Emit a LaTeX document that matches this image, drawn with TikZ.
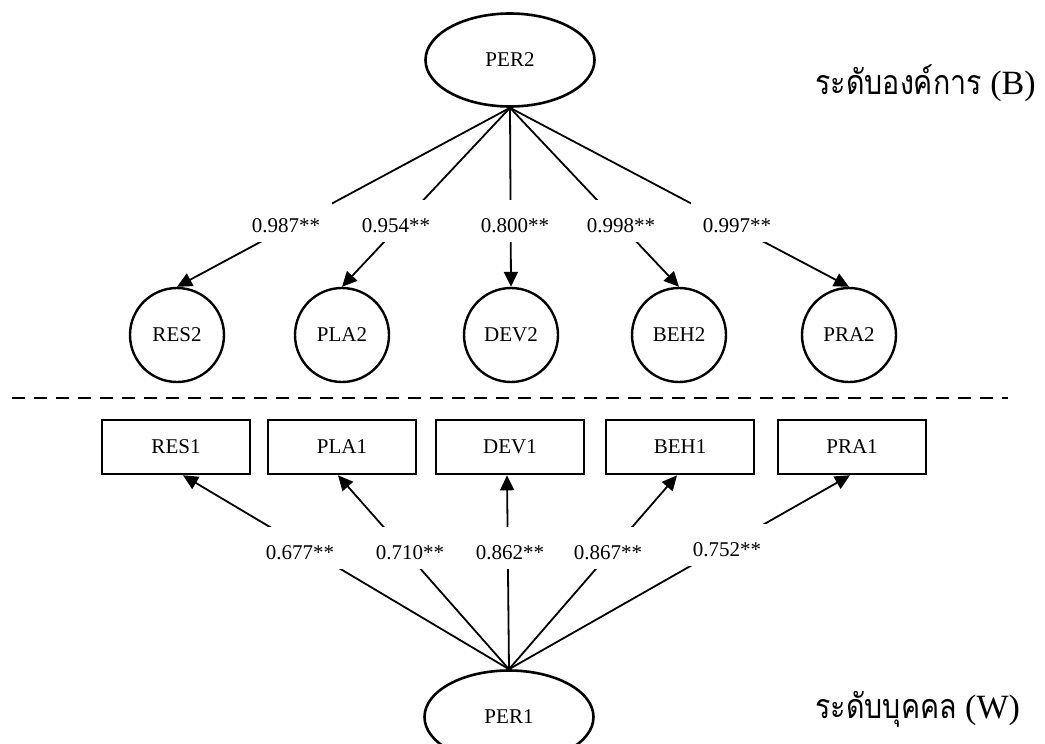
\documentclass[tikz,border=0pt]{standalone}
\usepackage{fontspec}
\setmainfont{Liberation Serif}
\newfontfamily\thaifont[Script=Thai,FakeStretch=0.84]{Loma}
\usetikzlibrary{arrows.meta,shapes.geometric}
\begin{document}
\begin{tikzpicture}[x=1pt,y=-1pt,
  font=\fontsize{21}{25}\selectfont,
  latent/.style={ellipse,draw,line width=2.6pt,minimum width=169pt,minimum height=93pt,inner sep=0pt},
  factor/.style={circle,draw,line width=2.4pt,minimum size=94pt,inner sep=0pt},
  indicator/.style={rectangle,draw,line width=2.6pt,minimum width=148pt,minimum height=54pt,inner sep=0pt},
  loading/.style={line width=1.8pt,-{Triangle[length=15pt,width=14pt]}},
  coef/.style={fill=white,anchor=base,text height=24pt,text depth=2pt,inner xsep=12pt,inner ysep=8pt},
  level/.style={anchor=west,font=\fontsize{34}{40}\selectfont}
]
\useasboundingbox (0,0) rectangle (1045,744);

% between-level (organisation) model
\node[latent] (PER2) at (510,60) {PER2};
\node[factor] (RES2) at (177,335) {RES2};
\node[factor] (PLA2) at (342,335) {PLA2};
\node[factor] (DEV2) at (511,335) {DEV2};
\node[factor] (BEH2) at (679,335) {BEH2};
\node[factor] (PRA2) at (849,335) {PRA2};

\draw[loading] (PER2.south) -- (RES2.north);
\draw[loading] (PER2.south) -- (PLA2.north);
\draw[loading] (PER2.south) -- (DEV2.north);
\draw[loading] (PER2.south) -- (BEH2.north);
\draw[loading] (PER2.south) -- (PRA2.north);

\node[coef] (bRES) at (286,232) {0.987**};
\node[coef] (bPLA) at (396,232) {0.954**};
\node[coef] (bDEV) at (515,232) {0.800**};
\node[coef] (bBEH) at (621,232) {0.998**};
\node[coef] (bPRA) at (737,232) {0.997**};

% level separator
\draw[line width=2.2pt,dash pattern=on 13pt off 9pt] (12,398) -- (1008,398);

% within-level (individual) model
\node[indicator] (RES1) at (176,447) {RES1};
\node[indicator] (PLA1) at (342,447) {PLA1};
\node[indicator] (DEV1) at (510,447) {DEV1};
\node[indicator] (BEH1) at (680,447) {BEH1};
\node[indicator] (PRA1) at (852,447) {PRA1};
\node[latent] (PER1) at (509,717) {PER1};

\draw[loading] (PER1.north) -- ([xshift=7pt]RES1.south);
\draw[loading] (PER1.north) -- ([xshift=-4pt]PLA1.south);
\draw[loading] (PER1.north) -- ([xshift=-3pt]DEV1.south);
\draw[loading] (PER1.north) -- ([xshift=-3pt]BEH1.south);
\draw[loading] (PER1.north) -- ([xshift=-2pt]PRA1.south);

\node[coef] (wRES) at (300,559) {0.677**};
\node[coef] (wPLA) at (410,559) {0.710**};
\node[coef] (wDEV) at (510,559) {0.862**};
\node[coef] (wBEH) at (608,559) {0.867**};
\node[coef] (wPRA) at (727,556) {0.752**};

% level captions
\node[level] (lvlB) at (812,83) {{\thaifont ระดับองค์การ} (B)};
\node[level] (lvlW) at (812,709) {{\thaifont ระดับบุคคล} (W)};
\end{tikzpicture}
\end{document}
